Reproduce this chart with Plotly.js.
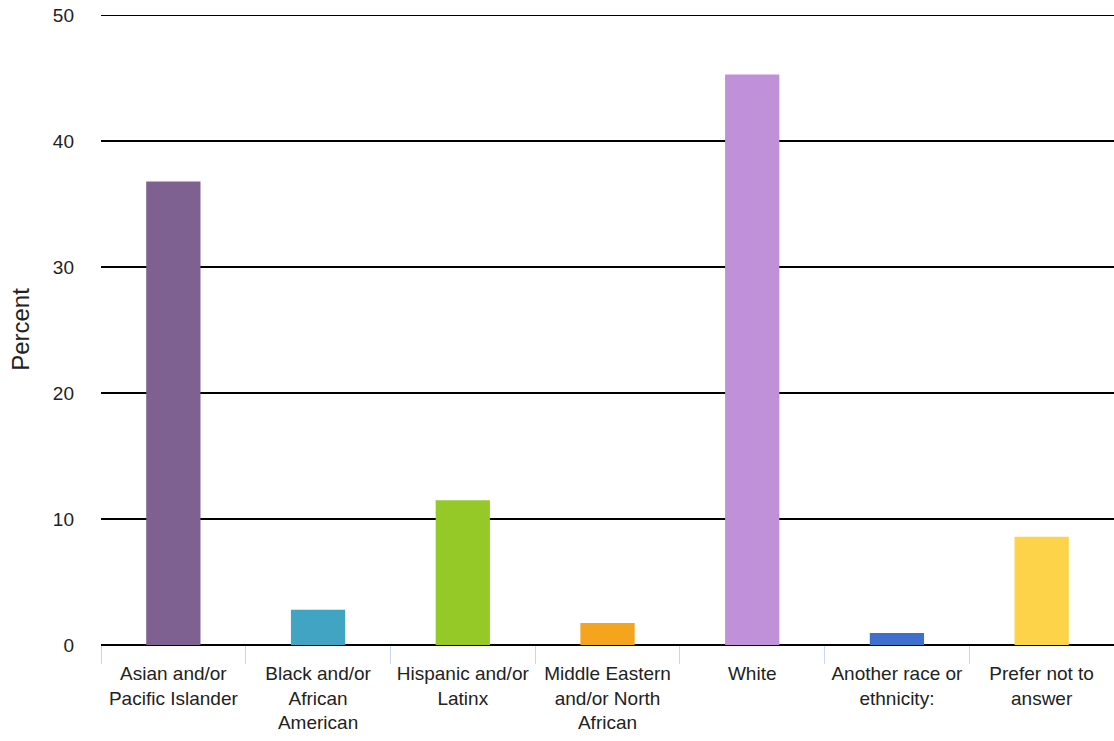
<!DOCTYPE html>
<html>
<head>
<meta charset="utf-8">
<script src="https://cdn.plot.ly/plotly-3.0.1.min.js"></script>
<style>html,body{margin:0;padding:0;background:#fff;}#chart{width:1114px;height:741px;}</style>
</head>
<body>
<div id="chart"></div>
<script>
const categories = [
  "Asian and/or<br>Pacific Islander",
  "Black and/or<br>African<br>American",
  "Hispanic and/or<br>Latinx",
  "Middle Eastern<br>and/or North<br>African",
  "White",
  "Another race or<br>ethnicity:",
  "Prefer not to<br>answer"
];
const percentValues = [36.8, 2.8, 11.5, 1.75, 45.3, 0.95, 8.6];
const barColors = ["#7e6190", "#41a4c3", "#95c927", "#f4a51d", "#c091d9", "#3f6fcd", "#fdd34a"];
const yTickValues = [0, 10, 20, 30, 40, 50];

Plotly.newPlot("chart", [{
  type: "bar",
  x: categories,
  y: percentValues,
  marker: {color: barColors},
  hoverinfo: "x+y"
}], {
  width: 1114, height: 741,
  margin: {l: 101, r: 0, t: 14, b: 96},
  bargap: 0.625,
  paper_bgcolor: "#fff", plot_bgcolor: "#fff",
  font: {family: "Liberation Sans, Arial, sans-serif", size: 19, color: "#222"},
  showlegend: false,
  xaxis: {
    type: "category",
    tickson: "boundaries",
    ticks: "outside", ticklen: 18, tickcolor: "#ccd6eb", tickwidth: 1,
    showgrid: false,
    tickangle: 0,
    ticklabelstandoff: 15,
    tickfont: {size: 19, color: "#222"}
  },
  yaxis: {
    range: [0, 50.1],
    tickvals: yTickValues,
    ticktext: yTickValues.map(String),
    showgrid: true, gridcolor: "#000", gridwidth: 1.5,
    zeroline: true, zerolinecolor: "#000", zerolinewidth: 2.5,
    ticks: "", ticklabelstandoff: 26,
    tickfont: {size: 19, color: "#222"},
    title: {text: "Percent", font: {size: 24, color: "#222"}, standoff: 16}
  }
}, {displayModeBar: false, staticPlot: true});
</script>
</body>
</html>
